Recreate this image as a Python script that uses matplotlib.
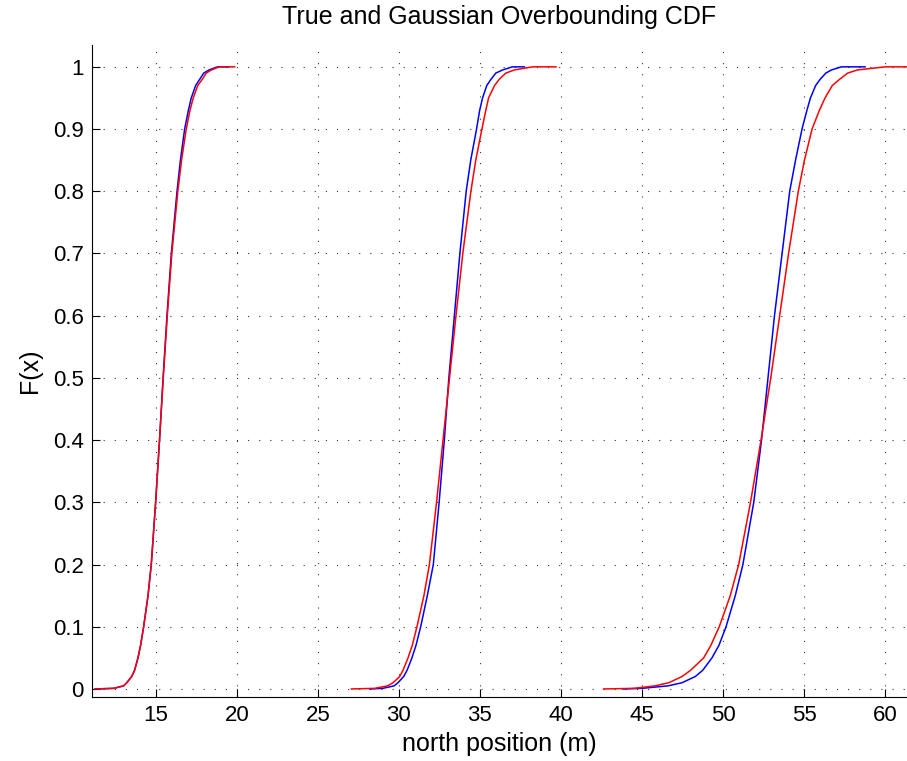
import numpy as np
import matplotlib
matplotlib.use('Agg')
import matplotlib.pyplot as plt

# 데이터
cdf_levels = [0.0, 0.001, 0.005, 0.01, 0.02, 0.03, 0.05, 0.07, 0.1, 0.15, 0.2, 0.3, 0.4,
              0.5, 0.6, 0.7, 0.8, 0.85, 0.9, 0.93, 0.95, 0.97, 0.98, 0.99, 0.995, 1.0, 1.0]

# 첫 번째 구간 (~15 m)
true_x1 = [11.25, 12.39, 13.0, 13.2, 13.5, 13.68, 13.89, 14.05, 14.24, 14.51, 14.71, 14.98, 15.22,
           15.44, 15.68, 15.95, 16.30, 16.51, 16.77, 17.0, 17.18, 17.45, 17.70, 17.95, 18.27, 18.8, 19.5]
bound_x1 = [11.25, 12.39, 13.0, 13.2, 13.5, 13.68, 13.89, 14.05, 14.24, 14.51, 14.71, 14.98, 15.22,
            15.45, 15.70, 15.98, 16.35, 16.58, 16.87, 17.10, 17.30, 17.58, 17.86, 18.1, 18.42, 18.9, 19.86]

# 두 번째 구간 (~33 m)
true_x2 = [28.2, 29.0, 29.7, 29.94, 30.29, 30.5, 30.80, 31.05, 31.34, 31.75, 32.12, 32.48, 32.80,
           33.08, 33.42, 33.76, 34.15, 34.43, 34.79, 34.98, 35.16, 35.42, 35.68, 35.98, 36.40, 37.0, 37.74]
bound_x2 = [27.06, 28.5, 29.3, 29.63, 30.04, 30.25, 30.56, 30.82, 31.11, 31.54, 31.88, 32.32, 32.72,
            33.12, 33.52, 33.94, 34.44, 34.74, 35.12, 35.36, 35.53, 35.9, 36.19, 36.6, 37.12, 38.25, 39.69]

# 세 번째 구간 (~53 m)
true_x3 = [43.8, 45.0, 46.6, 47.47, 48.29, 48.75, 49.32, 49.75, 50.19, 50.76, 51.23, 51.90, 52.38,
           52.78, 53.18, 53.65, 54.12, 54.48, 54.88, 55.18, 55.40, 55.72, 56.0, 56.35, 56.7, 57.3, 58.77]
bound_x3 = [42.63, 44.5, 45.8, 46.65, 47.47, 48.0, 48.81, 49.25, 49.77, 50.45, 50.97, 51.70, 52.35,
            52.95, 53.50, 54.05, 54.65, 55.03, 55.50, 55.95, 56.30, 56.75, 57.2, 57.7, 58.3, 60.0, 61.4]

plt.rcParams['font.family'] = ['Liberation Sans', 'DejaVu Sans']

fig = plt.figure(figsize=(9.07, 7.61), dpi=100)
ax = fig.add_axes([0.1014, 0.0841, 0.8986, 0.857])

for tx, bx in [(true_x1, bound_x1), (true_x2, bound_x2), (true_x3, bound_x3)]:
    ax.plot(tx, cdf_levels, color='blue', linewidth=1.1)
    ax.plot(bx, cdf_levels, color='red', linewidth=1.1)

ax.set_xlim(11.05, 61.36)
ax.set_ylim(-0.0129, 1.0354)
ax.set_xticks(np.arange(15, 61, 5))
ax.set_yticks(np.arange(0, 1.01, 0.1))
ax.set_yticklabels(['0', '0.1', '0.2', '0.3', '0.4', '0.5', '0.6', '0.7', '0.8', '0.9', '1'])

ax.grid(True, color='#333333', linestyle=(0, (1, 9)), linewidth=0.8)
ax.tick_params(direction='in', length=6, width=0.8, labelsize=16, pad=6)
ax.spines['top'].set_visible(False)
ax.spines['right'].set_visible(False)

ax.set_xlabel('north position (m)', fontsize=18, labelpad=4)
ax.set_ylabel('F(x)', fontsize=18, labelpad=8)
ax.set_title('True and Gaussian Overbounding CDF', fontsize=18, pad=15)

plt.savefig('out.png', dpi=100)
